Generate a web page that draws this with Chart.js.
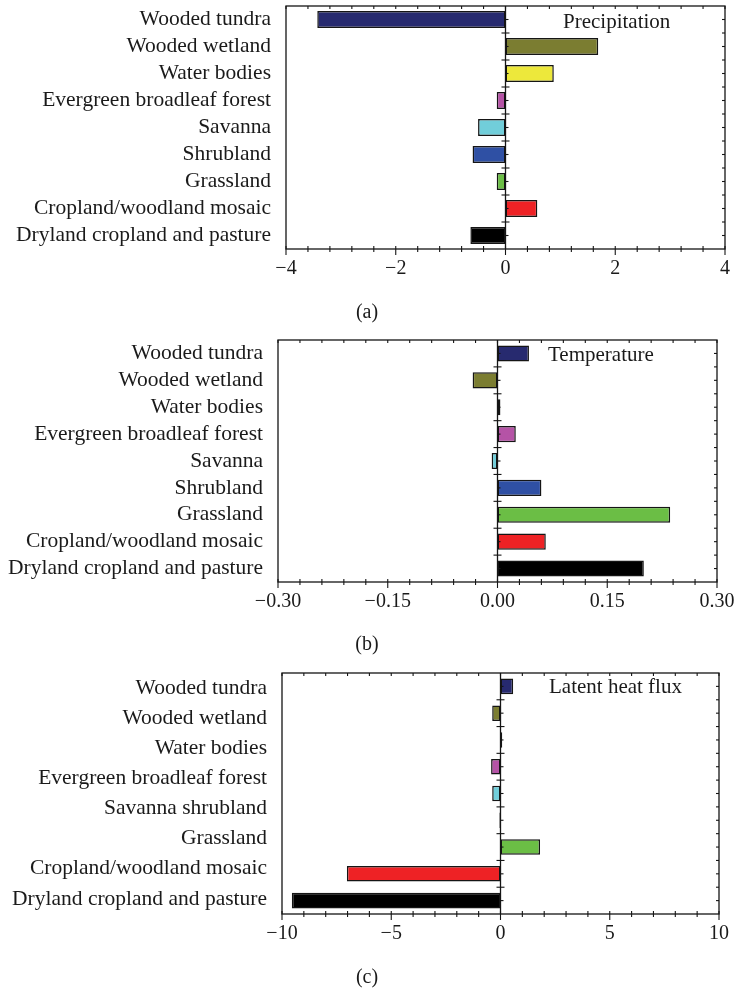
<!DOCTYPE html>
<html>
<head>
<meta charset="utf-8">
<script src="https://cdn.jsdelivr.net/npm/chart.js@4.4.1/dist/chart.umd.min.js"></script>
<style>
  html, body { margin: 0; padding: 0; background: #fff; }
  .panel { position: absolute; left: 0; width: 736px; }
</style>
</head>
<body>
<div class="panel" style="top:0;height:330px"><canvas id="chartA"></canvas></div>
<div class="panel" style="top:330px;height:330px"><canvas id="chartB"></canvas></div>
<div class="panel" style="top:660px;height:331px"><canvas id="chartC"></canvas></div>
<script>
// land cover classes, top to bottom
const landCover = ['Wooded tundra', 'Wooded wetland', 'Water bodies', 'Evergreen broadleaf forest',
    'Savanna', 'Shrubland', 'Grassland', 'Cropland/woodland mosaic', 'Dryland cropland and pasture'];
// panel (c) prints savanna + shrubland as one label
const latentLabels = ['Wooded tundra', 'Wooded wetland', 'Water bodies', 'Evergreen broadleaf forest',
    'Savanna shrubland', 'Grassland', 'Cropland/woodland mosaic', 'Dryland cropland and pasture'];

const precipitation = [-3.43, 1.69, 0.88, -0.16, -0.50, -0.60, -0.16, 0.58, -0.64];
const temperature = [0.043, -0.034, 0.004, 0.025, -0.008, 0.060, 0.236, 0.066, 0.200];
const latentHeat = [0.58, -0.38, 0.08, -0.43, -0.38, -0.05, 1.81, -7.03, -9.55];

const precipTicks = [-4, -2, 0, 2, 4];
const tempTicks = [-0.30, -0.15, 0.00, 0.15, 0.30];
const latentTicks = [-10, -5, 0, 5, 10];

const barColors = ['#272a6f', '#7b7d31', '#ede83b', '#b553a6', '#71ceda', '#2f50a4', '#6bbe45', '#ee2225', '#000000'];

const FONT = "'Liberation Serif', 'Times New Roman', serif";
Chart.defaults.font.family = FONT;
Chart.defaults.color = '#1a1a1a';

// frame, zero line, tick marks, panel title and (a)/(b)/(c)
const framePlugin = {
    id: 'frame',
    afterDatasetsDraw(chart, args, opts) {
        const { ctx, chartArea: a, scales } = chart;
        const xs = scales.x, ys = scales.y;
        const line = (x1, y1, x2, y2) => { ctx.beginPath(); ctx.moveTo(x1, y1); ctx.lineTo(x2, y2); ctx.stroke(); };
        ctx.save();
        ctx.strokeStyle = '#151515';
        ctx.lineWidth = 1.3;
        ctx.strokeRect(a.left, a.top, a.right - a.left, a.bottom - a.top);
        const x0 = xs.getPixelForValue(0);
        line(x0, a.top, x0, a.bottom);

        ctx.lineWidth = 1.1;
        xs.ticks.forEach(t => {
            const px = xs.getPixelForValue(t.value);
            const major = t.label !== '';
            line(px, a.bottom - 3, px, a.bottom + (major ? 6 : 3));
            line(px, a.top, px, a.top + 3);
        });

        const n = ys.getLabels().length;
        for (let i = 0; i < n; i++) {
            const cy = ys.getPixelForValue(i);
            line(a.right - 3, cy, a.right, cy);
            line(x0, cy, x0 + 3, cy);
            if (i > 0) {
                const by = (cy + ys.getPixelForValue(i - 1)) / 2;
                line(a.right - 3, by, a.right, by);
                line(x0 - 4, by, x0 + 4, by);
            }
        }

        ctx.fillStyle = '#1a1a1a';
        ctx.textBaseline = 'middle';
        ctx.textAlign = 'left';
        ctx.font = '21px ' + FONT;
        ctx.fillText(opts.title, opts.titleX, a.top + opts.titleDy);
        ctx.textAlign = 'center';
        ctx.font = '20px ' + FONT;
        ctx.fillText(opts.sub, opts.subX, opts.subY);
        ctx.restore();
    }
};

const fmt = (v, digits) => {
    const s = Math.abs(v).toFixed(digits);
    return v < -1e-9 ? '\u2212' + s : s;
};

// drop the label overhang padding so the plot box lands where we put it
const noPad = s => { s.paddingTop = 0; s.paddingBottom = 0; s.paddingLeft = 0; s.paddingRight = 0; };

function makePanel(id, cfg) {
    const labelAxis = {
        type: 'category',
        position: 'left',
        grid: { display: false, drawTicks: false },
        border: { display: false },
        ticks: { padding: 15, autoSkip: false, font: { size: 21.5 } },
        afterFit: s => { s.width = cfg.left; noPad(s); }
    };
    const scales = {
        x: {
            type: 'linear',
            min: cfg.ticks[0],
            max: cfg.ticks[cfg.ticks.length - 1],
            grid: { display: false, drawTicks: false },
            border: { display: false },
            ticks: {
                stepSize: cfg.minorStep,
                autoSkip: false,
                maxRotation: 0,
                padding: 8,
                font: { size: 20 },
                callback: v => cfg.ticks.some(t => Math.abs(t - v) < 1e-9) ? fmt(v, cfg.digits) : ''
            },
            afterFit: s => { s.height = cfg.xHeight; noPad(s); }
        }
    };
    if (cfg.labelAxis) {
        scales.y = { type: 'category', display: false, afterFit: s => { s.width = 0; noPad(s); } };
        scales.y2 = Object.assign({}, labelAxis, { labels: cfg.labelAxis, offset: true });
    } else {
        scales.y = labelAxis;
    }
    return new Chart(document.getElementById(id), {
        type: 'bar',
        data: {
            labels: landCover,
            datasets: [{
                data: cfg.values,
                backgroundColor: barColors,
                borderColor: '#151515',
                borderWidth: 1.5,
                borderSkipped: false,
                categoryPercentage: 1,
                barPercentage: cfg.barPct
            }]
        },
        options: {
            indexAxis: 'y',
            responsive: true,
            maintainAspectRatio: false,
            animation: false,
            layout: { padding: { top: cfg.top, right: cfg.right, left: 0, bottom: 0 } },
            scales,
            plugins: {
                legend: { display: false },
                tooltip: { enabled: false },
                frame: cfg.frame
            }
        },
        plugins: [framePlugin]
    });
}

makePanel('chartA', {
    values: precipitation, ticks: precipTicks, minorStep: 0.4, digits: 0,
    top: 6, right: 11, left: 286, xHeight: 81, barPct: 0.63,
    frame: { title: 'Precipitation', titleX: 563, titleDy: 16, sub: '(a)', subX: 367, subY: 313 }
});
makePanel('chartB', {
    values: temperature, ticks: tempTicks, minorStep: 0.03, digits: 2,
    top: 10, right: 19, left: 278, xHeight: 78, barPct: 0.6,
    frame: { title: 'Temperature', titleX: 548, titleDy: 15, sub: '(b)', subX: 367, subY: 315 }
});
makePanel('chartC', {
    values: latentHeat, ticks: latentTicks, minorStep: 1, digits: 0,
    top: 13, right: 17, left: 282, xHeight: 77, barPct: 0.58,
    labelAxis: latentLabels,
    frame: { title: 'Latent heat flux', titleX: 549, titleDy: 14, sub: '(c)', subX: 367, subY: 318 }
});
</script>
</body>
</html>
